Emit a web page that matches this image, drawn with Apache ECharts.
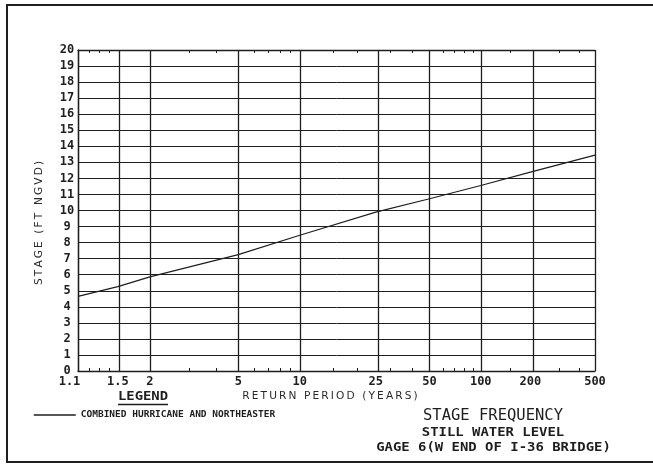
<!DOCTYPE html>
<html>
<head>
<meta charset="utf-8">
<script src="https://cdn.jsdelivr.net/npm/echarts@6/dist/echarts.min.js"></script>
<style>
  html, body { margin: 0; padding: 0; background: #ffffff; }
  #chart { width: 653px; height: 467px; }
</style>
</head>
<body>
<div id="chart"></div>
<script>
// Return periods printed along the frequency axis (years)
const returnPeriods = [1.1, 1.5, 2, 5, 10, 25, 50, 100, 200, 500];
// Still-water stage for each return period (ft NGVD)
const stageFt = [4.65, 5.26, 5.86, 7.25, 8.46, 9.90, 10.73, 11.56, 12.39, 13.45];
// Intermediate return periods marked with short ticks along the frame
const minorPeriods = [1.2, 1.3, 1.4, 3, 4, 6, 7, 8, 9, 15, 20, 30, 40, 60, 70, 80, 90, 150, 300, 400];
// Stage gridlines (ft)
const stageMin = 0, stageMax = 20, stageStep = 1;
const seriesName = 'COMBINED HURRICANE AND NORTHEASTER';

// Frequency paper: where each printed return period falls across the plot (0 = left edge, 1 = right edge)
const paperRuling = [0, 0.077, 0.139, 0.310, 0.429, 0.576, 0.680, 0.779, 0.875, 1];

// Map a return period onto the frequency paper (log-interpolated between printed rulings)
function toPaper(T) {
  const l = Math.log(T);
  const n = returnPeriods.length;
  for (let i = 0; i < n - 1; i++) {
    const a = Math.log(returnPeriods[i]);
    const b = Math.log(returnPeriods[i + 1]);
    if (l <= b || i === n - 2) {
      return paperRuling[i] + (l - a) / (b - a) * (paperRuling[i + 1] - paperRuling[i]);
    }
  }
  return 0;
}

function periodLabel(v) {
  for (let i = 0; i < returnPeriods.length; i++) {
    if (Math.abs(toPaper(returnPeriods[i]) - v) < 1e-6) {
      return i === 0 ? '{first|' + returnPeriods[i] + '}' : String(returnPeriods[i]);
    }
  }
  return '';
}

// Spread letters apart with thin spaces, as lettered on the plotter sheet
function spaced(s) {
  return s.split('').join('\u2009');
}

const INK = '#1e1e1e';
const MONO = '"DejaVu Sans Mono", "Liberation Mono", monospace';
const SANS = '"DejaVu Sans", "Noto Sans", sans-serif';

const chart = echarts.init(document.getElementById('chart'), null, { renderer: 'canvas' });

const majorPaper = returnPeriods.map(toPaper);
const minorPaper = minorPeriods.map(toPaper);

chart.setOption({
  animation: false,
  backgroundColor: '#ffffff',
  grid: { left: 78, top: 50, width: 517, height: 321, containLabel: false },
  legend: {
    data: [seriesName],
    left: 33,
    top: 410,
    padding: 0,
    itemWidth: 42,
    itemHeight: 10,
    selectedMode: false,
    itemStyle: { opacity: 0 },
    lineStyle: { color: INK, width: 1.5 },
    textStyle: { fontFamily: MONO, fontWeight: 'bold', fontSize: 9.5, color: INK }
  },
  xAxis: [
    {
      type: 'value',
      position: 'bottom',
      min: 0,
      max: 1,
      axisLine: { show: true, lineStyle: { color: INK, width: 1.3 } },
      axisTick: { show: true, inside: true, length: 3, customValues: minorPaper, lineStyle: { color: INK, width: 1 } },
      axisLabel: {
        customValues: majorPaper,
        formatter: periodLabel,
        margin: 5,
        fontFamily: MONO,
        fontWeight: 'bold',
        fontSize: 12,
        color: INK,
        rich: {
          first: { fontFamily: MONO, fontWeight: 'bold', fontSize: 12, color: INK, padding: [0, 17, 0, 0] }
        }
      },
      splitLine: { show: false }
    },
    {
      type: 'value',
      position: 'top',
      min: 0,
      max: 1,
      axisLine: { show: true, lineStyle: { color: INK, width: 1.3 } },
      axisTick: { show: true, inside: true, length: 3, customValues: minorPaper, lineStyle: { color: INK, width: 1 } },
      axisLabel: { show: false },
      splitLine: { show: false }
    }
  ],
  yAxis: {
    type: 'value',
    min: stageMin,
    max: stageMax,
    interval: stageStep,
    axisLine: { show: true, lineStyle: { color: INK, width: 1.3 } },
    axisTick: { show: false },
    axisLabel: {
      align: 'center',
      margin: 11,
      fontFamily: MONO,
      fontWeight: 'bold',
      fontSize: 12,
      color: INK
    },
    splitLine: { show: true, lineStyle: { color: INK, width: 1 } }
  },
  series: [
    {
      name: seriesName,
      type: 'line',
      xAxisIndex: 0,
      data: returnPeriods.map((T, i) => [toPaper(T), stageFt[i]]),
      symbol: 'none',
      smooth: false,
      lineStyle: { color: INK, width: 1.2 },
      itemStyle: { color: INK },
      z: 5,
      markLine: {
        silent: true,
        symbol: 'none',
        label: { show: false },
        lineStyle: { color: INK, width: 1.3, type: 'solid' },
        emphasis: { disabled: true },
        data: majorPaper.map(v => ({ xAxis: v }))
      }
    }
  ],
  graphic: [
    // sheet border
    {
      type: 'rect',
      shape: { x: 7, y: 5, width: 700, height: 457 },
      style: { fill: 'none', stroke: INK, lineWidth: 2 },
      silent: true
    },
    {
      type: 'text',
      x: 39, y: 223,
      rotation: Math.PI / 2,
      style: {
        text: spaced('STAGE (FT NGVD)'),
        font: '10.6px ' + SANS,
        fill: '#2a2a2a',
        align: 'center',
        verticalAlign: 'middle'
      }
    },
    {
      type: 'text',
      x: 330, y: 396,
      style: {
        text: spaced('RETURN PERIOD (YEARS)'),
        font: '10.6px ' + SANS,
        fill: '#2a2a2a',
        align: 'center',
        verticalAlign: 'middle'
      }
    },
    {
      type: 'text',
      x: 143, y: 397,
      scaleX: 1.07,
      style: {
        text: 'LEGEND',
        font: 'bold 13px ' + MONO,
        fill: INK,
        align: 'center',
        verticalAlign: 'middle'
      }
    },
    {
      type: 'line',
      shape: { x1: 118, y1: 404.5, x2: 168, y2: 404.5 },
      style: { stroke: INK, lineWidth: 1.5 }
    },
    {
      type: 'text',
      x: 493, y: 416,
      style: {
        text: 'STAGE FREQUENCY',
        font: '15.5px ' + MONO,
        fill: INK,
        align: 'center',
        verticalAlign: 'middle'
      }
    },
    {
      type: 'text',
      x: 493, y: 433,
      scaleX: 1.16,
      style: {
        text: 'STILL WATER LEVEL',
        font: 'bold 12px ' + MONO,
        fill: INK,
        align: 'center',
        verticalAlign: 'middle'
      }
    },
    {
      type: 'text',
      x: 493.5, y: 448,
      scaleX: 1.16,
      style: {
        text: 'GAGE 6(W END OF I-36 BRIDGE)',
        font: 'bold 12px ' + MONO,
        fill: INK,
        align: 'center',
        verticalAlign: 'middle'
      }
    }
  ]
});
</script>
</body>
</html>
